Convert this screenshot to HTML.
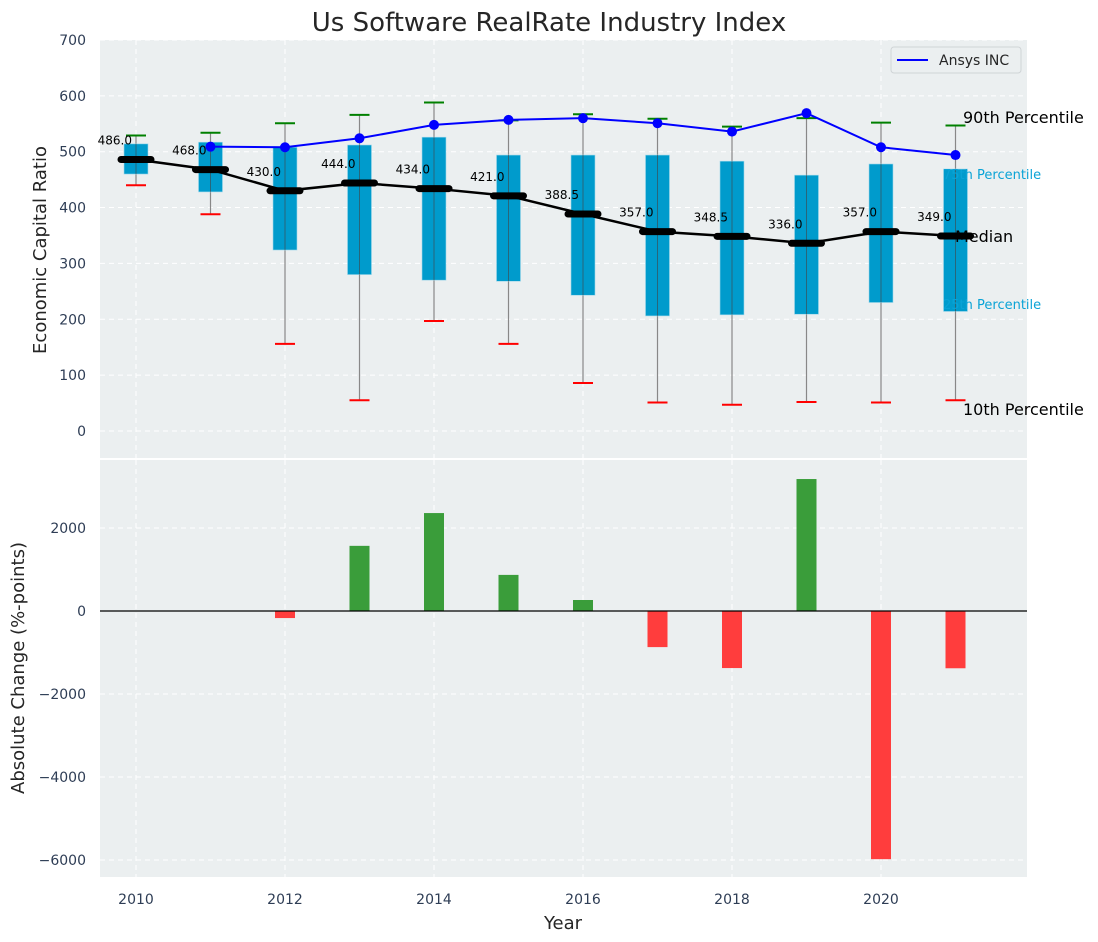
<!DOCTYPE html>
<html><head><meta charset="utf-8"><style>
body{margin:0;background:#fff;}
svg{display:block;font-family:"DejaVu Sans","Liberation Sans",sans-serif;}
</style></head><body>
<svg id="chart" width="1098" height="942" viewBox="0 0 1098 942" xmlns="http://www.w3.org/2000/svg">
<text x="549" y="31" text-anchor="middle" font-size="26" fill="#262626">Us Software RealRate Industry Index</text>
<rect x="100" y="40" width="927" height="418" fill="#ebeff0"/>
<rect x="100" y="460" width="927" height="417" fill="#ebeff0"/>
<g id="grid"></g>
<g id="top"></g>
<g id="bottom"></g>
<g id="axes"></g>
<text transform="translate(46,250) rotate(-90)" text-anchor="middle" font-size="18" fill="#262626">Economic Capital Ratio</text>
<text transform="translate(24,668) rotate(-90)" text-anchor="middle" font-size="18" fill="#262626">Absolute Change (%-points)</text>
<text x="563" y="929" text-anchor="middle" font-size="18" fill="#262626">Year</text>
<g>
<rect x="891" y="47" width="130" height="26" rx="3" fill="#ebeff0" stroke="#cfd4d6"/>
<line x1="897" y1="60" x2="928" y2="60" stroke="#0000ff" stroke-width="2"/>
<text x="939" y="65" font-size="14" fill="#262626">Ansys INC</text>
</g>
</svg>
<script>
const years=[2010,2011,2012,2013,2014,2015,2016,2017,2018,2019,2020,2021];
const p90=[529,534,551,566,588,556,567,559,545,560,552,547];
const q3=[514,517,508,512,526,494,494,494,483,458,478,469];
const median=[486,468,430,444,434,421,388.5,357,348.5,336,357,349];
const q1=[460,428,324,280,270,268,243,206,208,209,230,214];
const p10=[440,388,156,55,197,156,86,51,47,52,51,55];
const ansysYears=[2011,2012,2013,2014,2015,2016,2017,2018,2019,2020,2021];
const ansys=[509,508,524,548,557,560,551,536,569,508,494];
const change=[0,0,-170,1570,2360,870,265,-870,-1375,3180,-5980,-1380];
const topTicks=[0,100,200,300,400,500,600,700];
const bottomTicks=[2000,0,-2000,-4000,-6000];
const xTicks=[2010,2012,2014,2016,2018,2020];
const NS='http://www.w3.org/2000/svg';
const X=v=>136+(v-2010)*74.5;
const YT=v=>431-v*0.5586;
const YB=v=>611-v*0.0415;
function mk(tag,attrs,parent,txt){const e=document.createElementNS(NS,tag);for(const k in attrs)e.setAttribute(k,attrs[k]);if(txt!==undefined)e.textContent=txt;document.getElementById(parent).appendChild(e);return e;}
topTicks.forEach(t=>{const e=mk('line',{x1:100,x2:1027,y1:YT(t),y2:YT(t),stroke:'#fff','stroke-dasharray':'5,4','stroke-width':1},'grid');

});
bottomTicks.forEach(t=>{const e=mk('line',{x1:100,x2:1027,y1:YB(t),y2:YB(t),stroke:'#fff','stroke-dasharray':'5,4','stroke-width':1},'grid');

});
xTicks.forEach(t=>{[[40,458],[460,877]].forEach(r=>{const e=mk('line',{x1:X(t),x2:X(t),y1:r[0],y2:r[1],stroke:'#fff','stroke-dasharray':'5,4','stroke-width':1},'grid');

});});
years.forEach((y,i)=>{const x=X(y);
let e=mk('line',{x1:x,x2:x,y1:YT(p90[i]),y2:YT(p10[i]),stroke:'#888','stroke-width':1.2},'top');


e=mk('rect',{x:x-12,y:YT(q3[i]),width:24,height:YT(q1[i])-YT(q3[i]),fill:'#009bcc',stroke:'#9fd7ea','stroke-width':0.6},'top');


e=mk('line',{x1:x,x2:x,y1:YT(q3[i]),y2:YT(q1[i]),stroke:'#444','stroke-width':1,opacity:0.6},'top');


e=mk('line',{x1:x-10,x2:x+10,y1:YT(p90[i]),y2:YT(p90[i]),stroke:'#008000','stroke-width':2},'top');


e=mk('line',{x1:x-10,x2:x+10,y1:YT(p10[i]),y2:YT(p10[i]),stroke:'#ff0000','stroke-width':2},'top');

});
[['90th Percentile',963,123,16,'#000'],['75th Percentile',943,179,13,'#0aa3d6'],['Median',955,242,16,'#000'],['25th Percentile',943,309,13,'#0aa3d6'],['10th Percentile',963,415,16,'#000']].forEach(a=>{const t=mk('text',{x:a[1],y:a[2],'font-size':a[3],fill:a[4]},'top',a[0]);

});
let e=mk('polyline',{points:years.map((y,i)=>X(y)+','+YT(median[i])).join(' '),fill:'none',stroke:'#000','stroke-width':2.5},'top');


years.forEach((y,i)=>{const x=X(y);
let m=mk('line',{x1:x-15,x2:x+15,y1:YT(median[i]),y2:YT(median[i]),stroke:'#000','stroke-width':7,'stroke-linecap':'round'},'top');


m=mk('text',{x:x-4,y:YT(median[i])-15,'text-anchor':'end','font-size':12,fill:'#000'},'top',median[i].toFixed(1));

});
e=mk('polyline',{points:ansysYears.map((y,i)=>X(y)+','+YT(ansys[i])).join(' '),fill:'none',stroke:'#0000ff','stroke-width':2},'top');


ansysYears.forEach((y,i)=>{const c=mk('circle',{cx:X(y),cy:YT(ansys[i]),r:5,fill:'#0000ff'},'top');

});
years.forEach((y,i)=>{if(change[i]===0)return;const v=change[i];
const b=mk('rect',{x:X(y)-10,y:Math.min(YB(v),YB(0)),width:20,height:Math.abs(YB(v)-YB(0)),fill:v>0?'#3a9d3a':'#ff3d3d'},'bottom');

});
e=mk('line',{x1:100,x2:1027,y1:YB(0),y2:YB(0),stroke:'#000','stroke-width':1.2},'bottom');


topTicks.forEach(t=>{const l=mk('text',{x:86,y:YT(t)+5,'text-anchor':'end','font-size':14,fill:'#2e3d55'},'axes',String(t));

});
bottomTicks.forEach(t=>{const l=mk('text',{x:86,y:YB(t)+5,'text-anchor':'end','font-size':14,fill:'#2e3d55'},'axes',(t<0?'\u2212'+(-t):String(t)));

});
xTicks.forEach(t=>{const l=mk('text',{x:X(t),y:904,'text-anchor':'middle','font-size':14,fill:'#2e3d55'},'axes',String(t));

});
</script>
</body></html>
